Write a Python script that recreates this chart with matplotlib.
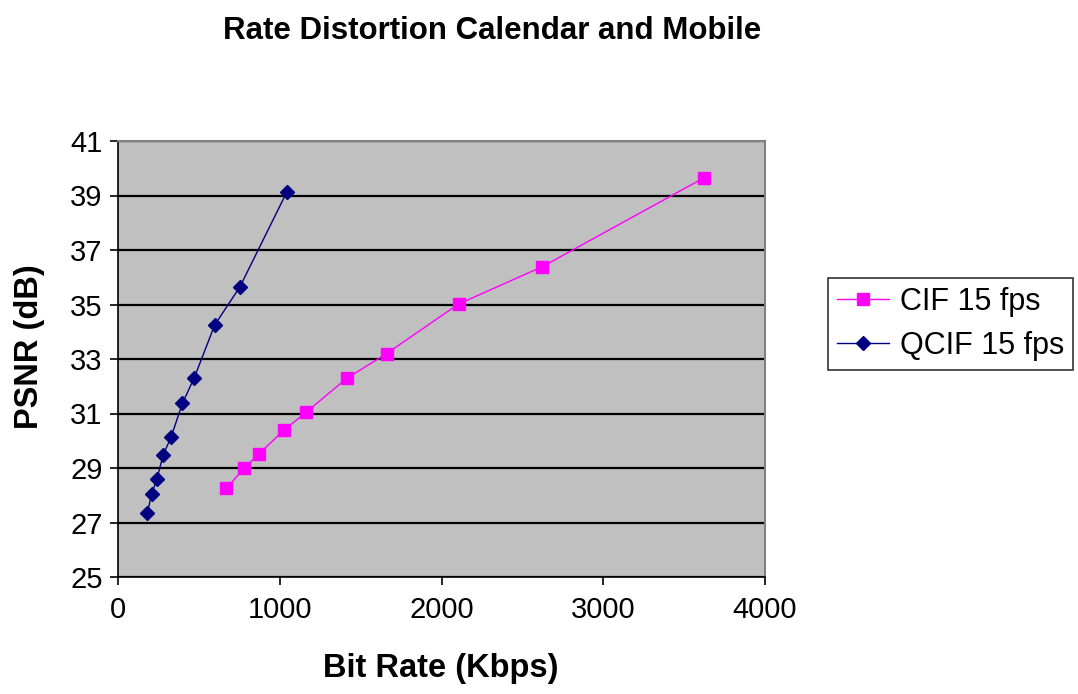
import matplotlib
matplotlib.use("Agg")
import matplotlib.pyplot as plt

plt.rcParams['font.family'] = ['Liberation Sans', 'DejaVu Sans']

cif_rate = [670, 779, 870, 1024, 1162, 1414, 1661, 2106, 2621, 3623]
cif_psnr = [28.25, 28.99, 29.51, 30.38, 31.04, 32.29, 33.2, 35.02, 36.38, 39.65]
qcif_rate = [181, 208, 241, 280, 328, 398, 472, 598, 754, 1043]
qcif_psnr = [27.34, 28.05, 28.61, 29.49, 30.13, 31.37, 32.32, 34.25, 35.65, 39.12]
x_ticks = [0, 1000, 2000, 3000, 4000]
y_ticks = [25, 27, 29, 31, 33, 35, 37, 39, 41]

W, H = 1078, 694
fig = plt.figure(figsize=(W / 100, H / 100), dpi=100)
ax = fig.add_axes([118 / W, 1 - 577 / H, (765 - 118) / W, (577 - 141) / H])
ax.set_facecolor('#C0C0C0')

ax.plot(cif_rate, cif_psnr, color='#FF00FF', lw=1, marker='s', markersize=9,
        markerfacecolor='#FF00FF', markeredgecolor='#FF00FF', label='CIF 15 fps', zorder=3)
ax.plot(qcif_rate, qcif_psnr, color='#000080', lw=1, marker='D', markersize=7,
        markerfacecolor='#000080', markeredgecolor='#000080', label='QCIF 15 fps', zorder=3)

ax.set_xlim(0, 4000)
ax.set_ylim(25, 41)
ax.set_xticks(x_ticks)
ax.set_yticks(y_ticks)
ax.yaxis.grid(True, color='black', lw=1.6)
ax.set_axisbelow(True)
for s in ['top', 'right']:
    ax.spines[s].set_color('#808080')
    ax.spines[s].set_linewidth(1.5)
for s in ['left', 'bottom']:
    ax.spines[s].set_color('black')
    ax.spines[s].set_linewidth(1.2)
ax.tick_params(axis='both', direction='out', length=6, width=1.2, labelsize=21)
ax.tick_params(axis='y', pad=5)
ax.tick_params(axis='x', pad=8)

fig.text(441 / W, 1 - 668 / H, 'Bit Rate (Kbps)', fontsize=23.5, fontweight='bold',
         ha='center', va='center')
fig.text(30 / W, 1 - 347 / H, 'PSNR (dB)', fontsize=23.5, fontweight='bold',
         ha='center', va='center', rotation=90)
fig.text(492 / W, 1 - 31 / H, 'Rate Distortion Calendar and Mobile', fontsize=22.5,
         fontweight='bold', ha='center', va='center')

leg = fig.legend(loc='upper left', bbox_to_anchor=(828 / W, 1 - 278 / H), fontsize=22,
                 frameon=True, fancybox=False, edgecolor='black', borderpad=0.3,
                 handlelength=1.7, handletextpad=0.35, labelspacing=0.45, borderaxespad=0)
leg.get_frame().set_linewidth(1.2)

fig.savefig('out.png', dpi=100)
